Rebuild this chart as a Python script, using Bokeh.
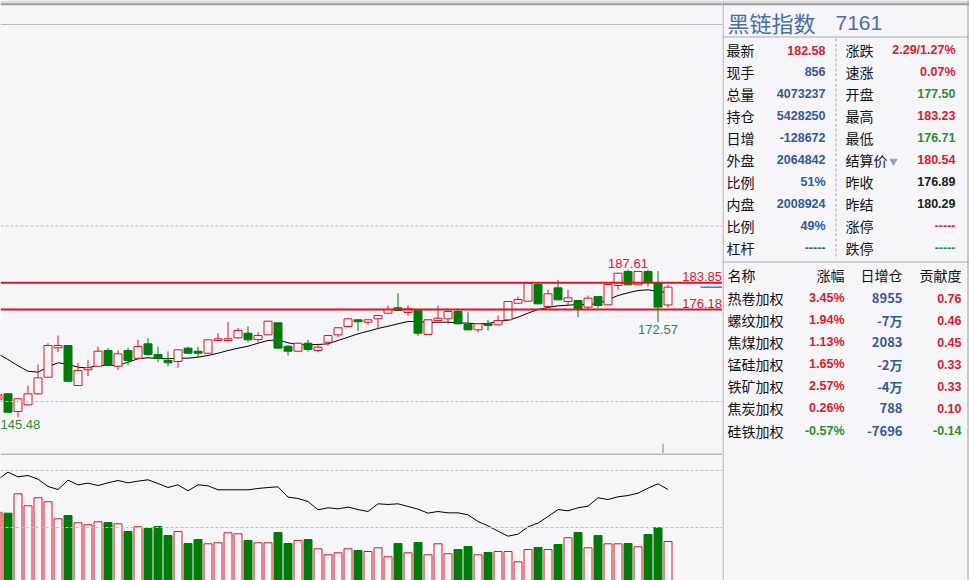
import numpy as np
from bokeh.plotting import figure
from bokeh.models import Range1d, Span, BoxAnnotation, ColumnDataSource
from bokeh.layouts import row, column
from bokeh.embed import file_html
from bokeh.resources import INLINE
from bokeh.core.properties import value

# ---------------- data ----------------
idx = list(range(-1, 67))
opens = [150.5, 152.2, 147.15, 149.06, 152.19, 156.92, 165.3, 165.95, 154.56, 159.03,
         160.06, 164.53, 160.06, 164.53, 162.34, 166.44, 163.39, 161.68, 161.4, 165.19,
         164.33, 163.76, 167.38, 167.38, 168.15, 169.46, 167.66, 169.0, 172.42, 165.75,
         164.33, 166.6, 164.53, 166.89, 169.0, 171.37, 173.28, 172.59, 173.56, 175.16,
         176.7, 175.36, 175.93, 169.09, 173.08, 173.56, 175.64, 171.94, 170.43, 172.14,
         171.85, 173.28, 178.0, 178.58, 183.33, 177.07, 182.39, 178.49, 178.77, 176.87,
         179.91, 177.55, 183.05, 187.04, 183.25, 187.04, 183.7, 177.50]
highs = [152.3, 152.4, 151.0, 154.56, 160.54, 166.6, 168.8, 166.0, 161.03, 161.88,
         165.67, 165.2, 164.53, 165.3, 167.58, 168.03, 165.67, 164.25, 164.9, 165.67,
         165.67, 167.8, 169.46, 172.59, 171.0, 171.45, 169.74, 173.0, 172.5, 166.0,
         166.8, 167.58, 166.44, 169.0, 171.2, 173.7, 173.4, 173.4, 174.7, 177.35,
         180.85, 177.35, 176.1, 173.4, 177.35, 176.41, 176.41, 175.44, 172.3, 173.28,
         174.5, 178.6, 179.91, 183.9, 183.99, 181.82, 184.67, 181.82, 178.9, 180.2,
         180.1, 183.5, 186.7, 187.61, 187.2, 187.52, 187.12, 183.23]
lows = [150.2, 146.8, 145.48, 148.9, 152.0, 156.8, 164.05, 155.5, 154.4, 157.2,
        159.9, 160.1, 159.03, 160.26, 162.2, 163.1, 161.2, 159.97, 159.6, 163.5,
        162.62, 163.6, 167.2, 167.2, 167.86, 166.9, 166.9, 168.9, 165.0, 163.1,
        164.1, 164.25, 164.05, 165.95, 168.32, 171.0, 170.03, 171.85, 170.7, 175.0,
        175.8, 174.5, 168.72, 168.9, 172.9, 172.14, 172.0, 170.3, 169.74, 170.23,
        171.7, 173.1, 177.9, 178.4, 177.7, 176.9, 178.8, 177.35, 174.02, 175.93,
        176.7, 177.4, 181.82, 183.1, 183.1, 182.76, 172.57, 176.71]
closes = [152.0, 146.95, 150.77, 152.19, 156.75, 165.95, 165.95, 155.78, 158.83, 159.6,
          164.33, 160.26, 163.59, 161.68, 165.67, 163.39, 162.34, 161.03, 164.73, 163.76,
          163.76, 167.58, 167.86, 167.86, 170.23, 167.58, 168.8, 172.88, 165.19, 164.33,
          166.6, 164.81, 165.47, 168.8, 171.0, 173.56, 172.71, 173.28, 174.5, 176.21,
          175.93, 176.41, 169.46, 173.28, 173.73, 175.64, 172.14, 170.43, 172.14, 171.65,
          173.08, 178.49, 179.06, 183.7, 177.83, 180.68, 178.97, 179.54, 176.41, 179.43,
          177.35, 183.33, 186.55, 183.25, 187.04, 183.99, 176.89, 182.58]
ma = [163.59, 161.97, 160.17, 158.63, 158.35, 159.89, 161.03, 160.63, 159.77, 159.60,
      160.26, 160.26, 160.26, 161.20, 162.17, 162.45, 162.25, 162.17, 162.34, 162.34,
      162.62, 163.11, 163.76, 164.53, 165.19, 165.75, 166.61, 167.38, 167.58, 166.72,
      166.24, 166.15, 166.24, 166.44, 167.38, 168.32, 169.29, 170.03, 170.80, 171.45,
      172.14, 172.79, 172.79, 172.51, 172.59, 172.59, 172.42, 172.31, 172.14, 172.22,
      172.79, 173.16, 174.02, 175.16, 176.21, 176.78, 177.26, 177.44, 177.64, 177.64,
      177.83, 178.97, 180.20, 180.97, 181.62, 181.82, 181.34, 181.05]
volume = [509.9, 506.4, 574.3, 532.3, 560.3, 546.3, 486.8, 498.3, 472.8, 465.8,
          476.3, 473.8, 469.3, 442.3, 458.8, 452.8, 459.8, 428.3, 442.3, 400.3,
          414.3, 399.3, 402.8, 437.8, 434.3, 410.8, 402.8, 402.8, 438.8, 400.3,
          410.8, 414.3, 381.8, 360.8, 367.8, 381.8, 375.8, 372.3, 385.3, 353.8,
          400.3, 367.8, 403.8, 360.8, 399.3, 364.3, 379.3, 389.8, 360.8, 368.8,
          372.3, 372.3, 336.3, 379.3, 386.3, 379.3, 396.8, 420.3, 438.8, 385.3,
          428.3, 399.3, 399.3, 400.3, 388.8, 431.8, 456.3, 407.3]
open_interest = [565.3, 581.8, 571.3, 574.3, 566.1, 549.6, 542.8, 563.8, 553.3, 557.1,
                 551.8, 557.8, 563.1, 557.8, 561.6, 564.6, 556.3, 547.3, 553.3, 539.8,
                 553.3, 551.1, 542.1, 542.1, 542.1, 542.1, 545.1, 547.3, 548.8, 525.6,
                 522.6, 515.8, 497.1, 501.6, 499.3, 503.1, 497.8, 493.3, 510.6, 509.1,
                 510.6, 504.6, 498.6, 489.6, 493.3, 490.3, 490.3, 485.8, 470.8, 461.1,
                 449.1, 437.8, 442.3, 458.8, 467.1, 482.1, 497.8, 494.8, 501.6, 505.3,
                 524.1, 520.3, 526.3, 529.3, 534.6, 545.8, 555.6, 542.8]
levels = [183.85, 176.18]
price_grid = [150, 200]

title_name = "黑链指数"
title_code = "7161"
left_labels = ["最新", "现手", "总量", "持仓", "日增", "外盘", "比例", "内盘", "比例", "杠杆"]
left_values = ["182.58", "856", "4073237", "5428250", "-128672", "2064842", "51%", "2008924", "49%", "-----"]
left_kinds = ["up", "info", "info", "info", "info", "info", "info", "info", "info", "info"]
right_labels = ["涨跌", "速涨", "开盘", "最高", "最低", "结算价", "昨收", "昨结", "涨停", "跌停"]
right_values = ["2.29/1.27%", "0.07%", "177.50", "183.23", "176.71", "180.54", "176.89", "180.29", "-----", "-----"]
right_kinds = ["up", "up", "down", "up", "down", "up", "flat", "flat", "up", "down"]

table_header = ["名称", "涨幅", "日增仓", "贡献度"]
comp_names = ["热卷加权", "螺纹加权", "焦煤加权", "锰硅加权", "铁矿加权", "焦炭加权", "硅铁加权"]
comp_change = ["3.45%", "1.94%", "1.13%", "1.65%", "2.57%", "0.26%", "-0.57%"]
comp_oi_change = ["8955", "-7万", "2083", "-2万", "-4万", "788", "-7696"]
comp_contrib = ["0.76", "0.46", "0.45", "0.33", "0.33", "0.10", "-0.14"]

# ---------------- style ----------------
BG = "#F5F5FA"
RED = "#E0141E"
GREEN = "#007A0A"
TRED = "#D9202A"
TGREEN = "#2E8B2E"
TBLUE = "#34589C"
GRIDC = "#BEBEC6"
NUMFONT = value("Liberation Sans")
CJK = value("Noto Sans CJK SC")


def base_fig(w, h, xr, yr):
    f = figure(width=w, height=h, x_range=xr, y_range=yr, output_backend="svg",
               toolbar_location=None, min_border=0, x_axis_location=None,
               y_axis_location=None)
    f.grid.visible = False
    f.outline_line_color = None
    f.background_fill_color = BG
    f.border_fill_color = BG
    return f


o = np.array(opens); h = np.array(highs); l = np.array(lows); c = np.array(closes)
up = c >= o
top = np.maximum(o, c); bot = np.minimum(o, c)
x = np.array(idx)

xr = Range1d(-0.75, 71.45)

# ---------------- header ----------------
hdr = base_fig(722, 25, Range1d(0, 722), Range1d(25, 0))
hdr.add_layout(BoxAnnotation(top=0, bottom=3, fill_color="#DCDCE0", fill_alpha=1, line_color=None))
hdr.add_layout(Span(location=3.8, dimension="width", line_color="#9C9CA0", line_width=2))
hdr.add_layout(Span(location=24.5, dimension="width", line_color="#7C7C80", line_width=1))

# ---------------- price ----------------
p = base_fig(722, 428, xr, Range1d(135.19, 257.12))
for g in price_grid:
    p.add_layout(Span(location=g, dimension="width", line_color=GRIDC, line_width=1, line_dash="3 2"))

p.line(x, ma, line_color="black", line_width=1)

su = ColumnDataSource(dict(x=x[up], h=h[up], l=l[up], t=top[up], b=bot[up]))
sd = ColumnDataSource(dict(x=x[~up], h=h[~up], l=l[~up], t=top[~up], b=bot[~up]))
p.segment(x0="x", y0="l", x1="x", y1="h", source=sd, line_color=GREEN, line_width=1)
p.vbar(x="x", width=0.8, top="t", bottom="b", source=sd, fill_color=GREEN, line_color=GREEN)
p.segment(x0="x", y0="l", x1="x", y1="h", source=su, line_color=RED, line_width=1)
p.vbar(x="x", width=0.8, top="t", bottom="b", source=su, fill_color=BG, line_color=RED)

for lv in levels:
    p.add_layout(Span(location=lv, dimension="width", line_color=RED, line_width=2))
p.text(x=[71.4] * len(levels), y=levels, text=["%.2f" % v for v in levels],
       text_align="right", text_baseline="bottom", y_offset=-2,
       text_color=TRED, text_font=NUMFONT, text_font_size="13px")

# latest price marker at right edge
p.segment(x0=[x[-1] + 3.25], y0=[closes[-1]], x1=[71.45], y1=[closes[-1]], line_color="#1A2E9A", line_width=1)
# selected bar tick
p.segment(x0=[x[-1] - 0.5], y0=[138.0], x1=[x[-1] - 0.5], y1=[135.19], line_color="#808080", line_width=1)

imax = int(np.argmax(h)); imin_all = int(np.argmin(l))
imin_recent = int(np.argmin(l[-12:])) + len(l) - 12
p.text(x=[x[imax]], y=[h[imax]], text=["%.2f" % h[imax]], text_align="center",
       text_baseline="bottom", y_offset=-1, text_color=TRED, text_font=NUMFONT, text_font_size="13px")
p.text(x=[x[imin_recent]], y=[l[imin_recent]], text=["%.2f" % l[imin_recent]], text_align="center",
       text_baseline="top", y_offset=3, text_color=TGREEN, text_font=NUMFONT, text_font_size="13px")
p.text(x=[xr.start], y=[l[imin_all]], text=["%.2f" % l[imin_all]], text_align="left",
       text_baseline="top", y_offset=3, text_color=TGREEN, text_font=NUMFONT, text_font_size="13px")

# ---------------- volume ----------------
v = base_fig(722, 127, xr, Range1d(270.8, 715.3))
v.extra_y_ranges = {"oi": Range1d(338.05, 623.8)}
v.add_layout(Span(location=713.6, dimension="width", line_color="#7C7C80", line_width=1))
for g in [655.8, 456.3]:
    v.add_layout(Span(location=g, dimension="width", line_color=GRIDC, line_width=1, line_dash="3 2"))
vol = np.array(volume)
v.vbar(x=x[~up], width=0.8, top=vol[~up], bottom=0, fill_color=GREEN, line_color=GREEN)
v.vbar(x=x[up], width=0.8, top=vol[up], bottom=0, fill_color=BG, line_color=RED)
v.line(x, open_interest, y_range_name="oi", line_color="black", line_width=1)

# ---------------- right info panel ----------------
r = base_fig(247, 580, Range1d(722, 969), Range1d(580, 0))
r.add_layout(BoxAnnotation(top=0, bottom=3, fill_color="#DCDCE0", fill_alpha=1, line_color=None))
r.add_layout(Span(location=3.8, dimension="width", line_color="#9C9CA0", line_width=2))
r.add_layout(Span(location=722.5, dimension="height", line_color="#9C9CA0", line_width=1))
r.add_layout(Span(location=967.5, dimension="height", line_color="#9C9CA0", line_width=1))
r.segment(x0=[722], y0=[36.5], x1=[969], y1=[36.5], line_color="#A8A8B0", line_width=1)
r.segment(x0=[722], y0=[261.5], x1=[969], y1=[261.5], line_color="#A8A8B0", line_width=1)
r.segment(x0=[835.5], y0=[38], x1=[835.5], y1=[258], line_color="#A8A8B0", line_width=1, line_dash="3 2")

r.text(x=[727], y=[21], text=[title_name], text_baseline="middle", text_color="#4A6CAE",
       text_font=CJK, text_font_size="22px")
r.text(x=[835], y=[22], text=[title_code], text_baseline="middle", text_color="#4A6CAE",
       text_font=NUMFONT, text_font_size="21px")

kind_color = {"up": TRED, "down": TGREEN, "info": TBLUE, "flat": "#202020"}
rows_y = [49.5 + 21.95 * i for i in range(len(left_labels))]
r.text(x=[726] * len(left_labels), y=rows_y, text=left_labels, text_baseline="middle",
       text_color="#111111", text_font=CJK, text_font_size="14px")
r.text(x=[825] * len(left_values), y=rows_y, text=left_values, text_baseline="middle",
       text_align="right", text_color=[kind_color[k] for k in left_kinds],
       text_font=NUMFONT, text_font_size="12.5px", text_font_style="bold")
r.text(x=[845] * len(right_labels), y=rows_y, text=right_labels, text_baseline="middle",
       text_color="#111111", text_font=CJK, text_font_size="14px")
r.text(x=[955] * len(right_values), y=rows_y, text=right_values, text_baseline="middle",
       text_align="right", text_color=[kind_color[k] for k in right_kinds],
       text_font=NUMFONT, text_font_size="12.5px", text_font_style="bold")
r.scatter(x=[893], y=[rows_y[5] + 1.5], marker="inverted_triangle", size=7,
          fill_color="#A0A0A8", line_color="#A0A0A8")

# component table
r.text(x=[727], y=[274.5], text=[table_header[0]], text_baseline="middle",
       text_color="#111111", text_font=CJK, text_font_size="14px")
r.text(x=[844, 902, 961], y=[274.5] * 3, text=table_header[1:], text_baseline="middle",
       text_align="right", text_color="#111111", text_font=CJK, text_font_size="14px")
ty = [297.7 + 22.05 * i for i in range(len(comp_names))]
r.text(x=[727] * len(ty), y=ty, text=comp_names, text_baseline="middle",
       text_color="#111111", text_font=CJK, text_font_size="14px")


def sign_col(s):
    return TGREEN if s.startswith("-") else TRED


r.text(x=[844] * len(ty), y=ty, text=comp_change, text_baseline="middle", text_align="right",
       text_color=[sign_col(s) for s in comp_change], text_font=NUMFONT,
       text_font_size="12.5px", text_font_style="bold")
r.text(x=[902] * len(ty), y=ty, text=comp_oi_change, text_baseline="middle", text_align="right",
       text_color=TBLUE, text_font=value("Noto Sans CJK SC"),
       text_font_size="13px", text_font_style="bold")
r.text(x=[961] * len(ty), y=ty, text=comp_contrib, text_baseline="middle", text_align="right",
       text_color=[sign_col(s) for s in comp_contrib], text_font=NUMFONT,
       text_font_size="12.5px", text_font_style="bold")

layout = row(column(hdr, p, v), r)
open("out.html", "w").write(file_html(layout, INLINE))
